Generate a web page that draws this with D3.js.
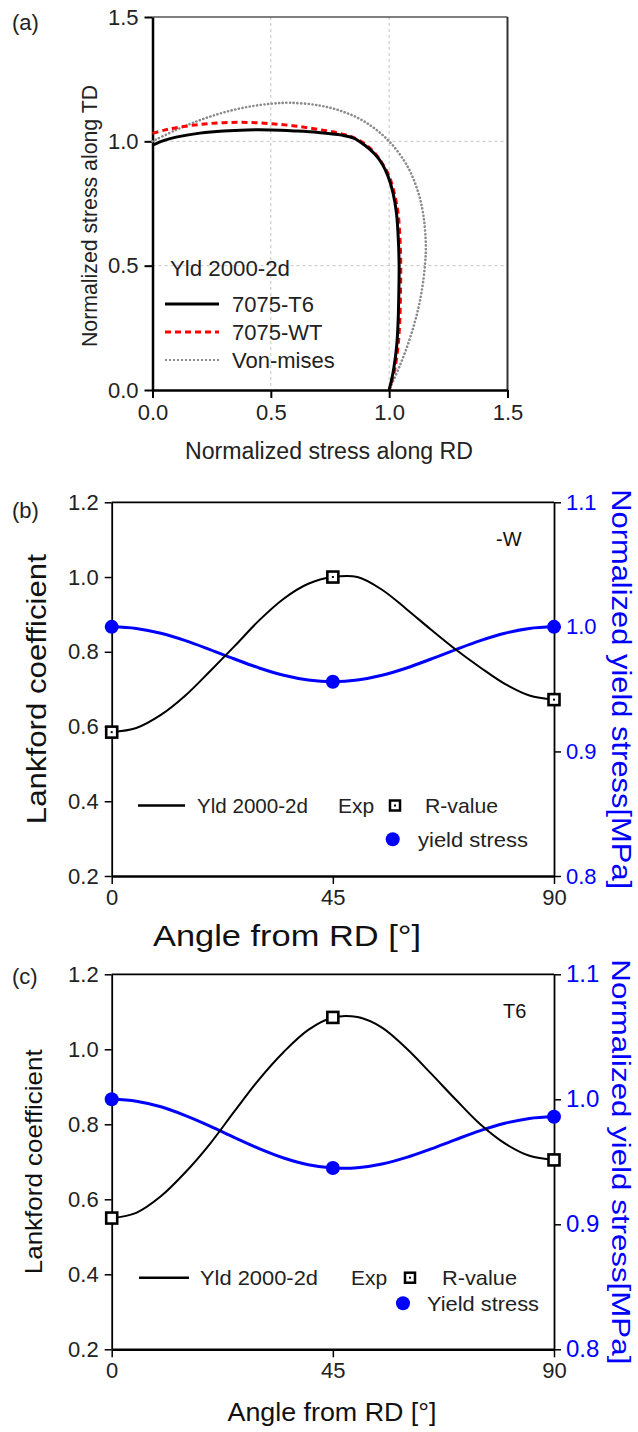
<!DOCTYPE html>
<html><head><meta charset="utf-8">
<script src="https://cdn.jsdelivr.net/npm/d3@7"></script>
<style>
body{margin:0;background:#fff}
svg{display:block}
text{font-family:"Liberation Sans",Arial,sans-serif}
</style>
</head><body>
<svg id="fig" width="638" height="1432"></svg>
<script>
// ---------- (a) Yld2000-2d yield loci, first quadrant [σ_RD, σ_TD] ----------
const lociTicks = [0, 0.5, 1.0, 1.5];
const locusT6 = [[0,0.985],[0.05,1.004],[0.1,1.017],[0.2,1.033],[0.3,1.042],[0.4,1.046],[0.5,1.046],
  [0.6,1.042],[0.7,1.036],[0.8,1.025],[0.85,1.013],[0.9,0.982],[0.94,0.948],[0.97,0.91],[0.995,0.86],
  [1.017,0.79],[1.031,0.71],[1.039,0.6],[1.042,0.5],[1.041,0.4],[1.038,0.28],[1.032,0.18],
  [1.02,0.09],[1.01,0.04],[1.0,0]];
const locusWT = [[0,1.032],[0.05,1.045],[0.1,1.055],[0.2,1.068],[0.3,1.075],[0.4,1.076],[0.5,1.071],
  [0.6,1.062],[0.7,1.048],[0.8,1.03],[0.85,1.015],[0.9,0.988],[0.94,0.952],[0.97,0.913],[1.0,0.86],
  [1.022,0.79],[1.038,0.71],[1.046,0.6],[1.049,0.5],[1.048,0.4],[1.045,0.28],[1.038,0.18],
  [1.025,0.09],[1.012,0.04],[1.0,0]];
const locusVM = [[0,1.0],[0.1,1.046],[0.2,1.085],[0.3,1.116],[0.4,1.138],[0.5,1.151],[0.577,1.155],
  [0.7,1.145],[0.8,1.121],[0.9,1.077],[1.0,1.0],[1.077,0.9],[1.121,0.8],[1.145,0.7],[1.155,0.577],
  [1.151,0.5],[1.138,0.4],[1.116,0.3],[1.085,0.2],[1.046,0.1],[1.0,0]];
const lociNames = ["7075-T6", "7075-WT", "Von-mises"];

// ---------- (b), (c) anisotropy vs. angle from RD ----------
const angleTicks = [0, 45, 90];
const rTicks = [0.2, 0.4, 0.6, 0.8, 1.0, 1.2];
const ysTicks = [0.8, 0.9, 1.0, 1.1];
const expAngles = [0, 45, 90];
const modelAngles = [0,5,10,15,20,25,30,35,40,45,50,55,60,65,70,75,80,85,90];

// 7075-W
const rExpW  = [0.585, 1.0, 0.672];
const ysExpW = [1.0, 0.956, 1.0];
const rYldW  = [0.585,0.596,0.631,0.683,0.748,0.815,0.884,0.942,0.982,1.0,1.0,0.966,0.914,0.859,0.806,0.758,0.714,0.683,0.672];
const ysYldW = [1.0,0.9987,0.9949,0.989,0.9818,0.9742,0.967,0.9611,0.9573,0.956,0.9573,0.9611,0.967,0.9742,0.9818,0.989,0.9949,0.9987,1.0];

// 7075-T6
const rExpT6  = [0.55, 1.085, 0.705];
const ysExpT6 = [1.0, 0.945, 0.986];
const rYldT6  = [0.55,0.564,0.608,0.672,0.748,0.835,0.92,0.993,1.052,1.085,1.086,1.058,1.002,0.935,0.866,0.8,0.749,0.716,0.705];
const ysYldT6 = [1.0,0.9985,0.994,0.987,0.9786,0.9693,0.9605,0.953,0.9476,0.945,0.9452,0.9482,0.9535,0.9603,0.9678,0.9749,0.9808,0.9847,0.986];

const svg = d3.select("#fig");
const BLUE = "#0000ff";
const FONT = '"Liberation Sans",Arial,sans-serif';

function label(g, x, y, s, o = {}) {
  const t = g.append("text")
    .attr("transform", `translate(${x},${y})` + (o.rot ? ` rotate(${o.rot})` : ""))
    .attr("text-anchor", o.anchor || "start")
    .attr("font-size", o.size || 20)
    .attr("fill", o.fill || "#111")
    .text(s);
  if (o.len) t.attr("textLength", o.len).attr("lengthAdjust", "spacingAndGlyphs");
  return t;
}

// ================= (a) =================
(function () {
  const L = 152.5, R = 507.5, T = 17, B = 390;
  const x = d3.scaleLinear().domain([0, 1.5]).range([L, R]);
  const y = d3.scaleLinear().domain([0, 1.5]).range([B, T]);
  const g = svg.append("g");

  // dashed grid
  [0.5, 1.0].forEach(v => {
    g.append("line").attr("x1", x(v)).attr("x2", x(v)).attr("y1", T).attr("y2", B)
      .attr("stroke", "#c4c4c4").attr("stroke-dasharray", "3,3");
    g.append("line").attr("x1", L).attr("x2", R).attr("y1", y(v)).attr("y2", y(v))
      .attr("stroke", "#c4c4c4").attr("stroke-dasharray", "3,3");
  });
  // top / right frame
  g.append("line").attr("x1", L).attr("x2", R).attr("y1", T).attr("y2", T).attr("stroke", "#555").attr("stroke-width", 1.5);
  g.append("line").attr("x1", R).attr("x2", R).attr("y1", T).attr("y2", B).attr("stroke", "#333").attr("stroke-width", 2);

  const ax = g.append("g").attr("transform", `translate(0,${B})`)
    .call(d3.axisBottom(x).tickValues(lociTicks).tickFormat(d3.format(".1f")).tickSize(8).tickSizeOuter(0).tickPadding(6));
  const ay = g.append("g").attr("transform", `translate(${L},0)`)
    .call(d3.axisLeft(y).tickValues(lociTicks).tickFormat(d3.format(".1f")).tickSize(8).tickSizeOuter(0).tickPadding(6));
  [ax, ay].forEach(a => {
    a.select(".domain").attr("stroke", "#000").attr("stroke-width", 2.5);
    a.selectAll(".tick line").attr("stroke", "#000").attr("stroke-width", 2);
    a.selectAll(".tick text").attr("font-size", 22).attr("fill", "#222").attr("font-family", FONT);
  });

  const line = d3.line().x(d => x(d[0])).y(d => y(d[1])).curve(d3.curveCatmullRom.alpha(0.5));
  g.append("path").attr("d", line(locusVM)).attr("fill", "none").attr("stroke", "#8a8a8a")
    .attr("stroke-width", 2.6).attr("stroke-dasharray", "0.1,3.6").attr("stroke-linecap", "round");
  g.append("path").attr("d", line(locusWT)).attr("fill", "none").attr("stroke", "#ff0000")
    .attr("stroke-width", 3).attr("stroke-dasharray", "6,4");
  g.append("path").attr("d", line(locusT6)).attr("fill", "none").attr("stroke", "#000")
    .attr("stroke-width", 3);

  // legend
  label(g, 170, 276, "Yld 2000-2d", { size: 22, fill: "#222", len: 120 });
  const styles = [
    { stroke: "#000", w: 3, dash: null },
    { stroke: "#ff0000", w: 3, dash: "6,4" },
    { stroke: "#8a8a8a", w: 2, dash: "2,2" }
  ];
  lociNames.forEach((n, i) => {
    const yy = 304 + i * 28;
    const l = g.append("line").attr("x1", 165).attr("x2", 219).attr("y1", yy).attr("y2", yy)
      .attr("stroke", styles[i].stroke).attr("stroke-width", styles[i].w);
    if (styles[i].dash) l.attr("stroke-dasharray", styles[i].dash);
    label(g, 232, yy + 8, n, { size: 22, fill: "#222" });
  });

  label(g, 12, 30, "(a)", { size: 22, fill: "#222" });
  label(g, 329, 459, "Normalized stress along RD", { size: 23, anchor: "middle", fill: "#222", len: 288 });
  label(g, 97, 216, "Normalized stress along TD", { size: 22, anchor: "middle", fill: "#222", rot: -90, len: 262 });
})();

// ================= (b), (c) =================
function panel(cfg) {
  const L = 111.7, R = 554, T = cfg.top, B = cfg.bottom;
  const x = d3.scaleLinear().domain([0, 90]).range([L, R]);
  const yL = d3.scaleLinear().domain([0.2, 1.2]).range([B, T]);
  const yR = d3.scaleLinear().domain([0.8, 1.1]).range([B, T]);
  const g = svg.append("g");

  g.append("line").attr("x1", L).attr("x2", R).attr("y1", T).attr("y2", T).attr("stroke", "#000").attr("stroke-width", 1.8);

  const ax = g.append("g").attr("transform", `translate(0,${B})`)
    .call(d3.axisBottom(x).tickValues(angleTicks).tickSize(8).tickSizeOuter(0).tickPadding(5));
  const ayL = g.append("g").attr("transform", `translate(${L},0)`)
    .call(d3.axisLeft(yL).tickValues(rTicks).tickFormat(d3.format(".1f")).tickSize(7).tickSizeOuter(0).tickPadding(6));
  const ayR = g.append("g").attr("transform", `translate(${R},0)`)
    .call(d3.axisRight(yR).tickValues(ysTicks).tickFormat(d3.format(".1f")).tickSize(7).tickSizeOuter(0).tickPadding(5));
  [ax, ayL, ayR].forEach(a => {
    a.select(".domain").attr("stroke", "#000").attr("stroke-width", 1.8);
    a.selectAll(".tick line").attr("stroke", "#000").attr("stroke-width", 1.5);
    a.selectAll(".tick text").attr("font-family", FONT).attr("fill", "#222");
  });
  ax.select(".domain").attr("stroke-width", 2.4);
  ax.selectAll(".tick text").attr("font-size", cfg.xTickSize);
  ayL.selectAll(".tick text").attr("font-size", cfg.yTickSize);
  ayR.selectAll(".tick text").attr("font-size", cfg.rTickSize).attr("fill", BLUE);

  const cl = d3.line().curve(d3.curveCatmullRom.alpha(0.5));
  g.append("path").attr("fill", "none").attr("stroke", BLUE).attr("stroke-width", 3)
    .attr("d", cl(modelAngles.map((a, i) => [x(a), yR(cfg.ysYld[i])])));
  g.append("path").attr("fill", "none").attr("stroke", "#000").attr("stroke-width", 2)
    .attr("d", cl(modelAngles.map((a, i) => [x(a), yL(cfg.rYld[i])])));

  g.selectAll(".ys").data(expAngles).join("circle")
    .attr("cx", a => x(a)).attr("cy", (a, i) => yR(cfg.ysExp[i])).attr("r", 7).attr("fill", BLUE);
  const sq = g.selectAll(".rv").data(expAngles).join("g")
    .attr("transform", (a, i) => `translate(${x(a)},${yL(cfg.rExp[i])})`);
  sq.append("rect").attr("x", -5.5).attr("y", -5.5).attr("width", 11).attr("height", 11)
    .attr("fill", "#fff").attr("stroke", "#000").attr("stroke-width", 2.6);
  if (cfg.centerDot) sq.append("rect").attr("x", -1).attr("y", -1).attr("width", 2).attr("height", 2).attr("fill", "#000");

  // legend
  const lg = cfg.legend;
  g.append("line").attr("x1", lg.lx1).attr("x2", lg.lx2).attr("y1", lg.ly).attr("y2", lg.ly)
    .attr("stroke", "#000").attr("stroke-width", 2.5);
  label(g, lg.tx, lg.ly + 7.5, "Yld 2000-2d", { size: 21, fill: "#222", len: lg.tlen });
  label(g, lg.ex, lg.ly + 7.5, "Exp", { size: 21, fill: "#222" });
  const ls = g.append("g").attr("transform", `translate(${lg.sqx},${lg.ly})`);
  ls.append("rect").attr("x", -5).attr("y", -5).attr("width", 10).attr("height", 10)
    .attr("fill", "#fff").attr("stroke", "#000").attr("stroke-width", 2.5);
  ls.append("rect").attr("x", -1).attr("y", -1).attr("width", 2).attr("height", 2).attr("fill", "#000");
  label(g, lg.rx, lg.ly + 7.5, "R-value", { size: 21, fill: "#222", len: lg.rlen });
  g.append("circle").attr("cx", lg.dx).attr("cy", lg.dy).attr("r", 7).attr("fill", BLUE);
  label(g, lg.yx, lg.dy + 7.5, cfg.ysName, { size: 21, fill: "#222", len: lg.ylen });

  label(g, cfg.tagX, T + 44, cfg.tag, { size: 20, fill: "#111" });
  label(g, 12, cfg.panelY, cfg.panel, { size: 22, fill: "#222" });
  label(g, cfg.xLabX, cfg.xLabY, "Angle from RD [°]", { size: cfg.xLabSize, anchor: "middle", fill: "#111", len: cfg.xLabLen });
  label(g, cfg.lankX, (T + B) / 2, "Lankford coefficient", { size: cfg.lankSize, anchor: "middle", fill: "#111", rot: -90, len: cfg.lankLen });
  label(g, 612, (T + B) / 2, "Normalized yield stress[MPa]", { size: cfg.ysLabSize, anchor: "middle", fill: BLUE, rot: 90, len: cfg.ysLabLen });
}

panel({
  top: 502.3, bottom: 876, panel: "(b)", panelY: 518, tag: "-W", tagX: 496,
  rExp: rExpW, ysExp: ysExpW, rYld: rYldW, ysYld: ysYldW, ysName: "yield stress", centerDot: true,
  xTickSize: 22, yTickSize: 22, rTickSize: 22,
  xLabX: 287, xLabY: 946, xLabSize: 30, xLabLen: 268,
  lankX: 46, lankSize: 27, lankLen: 270,
  ysLabSize: 28, ysLabLen: 400,
  legend: { lx1: 138, lx2: 185, ly: 805.5, tx: 197, tlen: 111, ex: 338, sqx: 395, rx: 425, rlen: 73,
            dx: 392.7, dy: 839.3, yx: 418, ylen: 110 }
});
panel({
  top: 974.3, bottom: 1349.3, panel: "(c)", panelY: 984, tag: "T6", tagX: 503,
  rExp: rExpT6, ysExp: ysExpT6, rYld: rYldT6, ysYld: ysYldT6, ysName: "Yield stress", centerDot: false,
  xTickSize: 22, yTickSize: 22, rTickSize: 24,
  xLabX: 332, xLabY: 1421, xLabSize: 25, xLabLen: 209,
  lankX: 42, lankSize: 24, lankLen: 225,
  ysLabSize: 26, ysLabLen: 405,
  legend: { lx1: 139, lx2: 189, ly: 1277.7, tx: 200, tlen: 118, ex: 351, sqx: 410, rx: 442, rlen: 75,
            dx: 403, dy: 1303.3, yx: 427, ylen: 112 }
});
</script>
</body></html>
